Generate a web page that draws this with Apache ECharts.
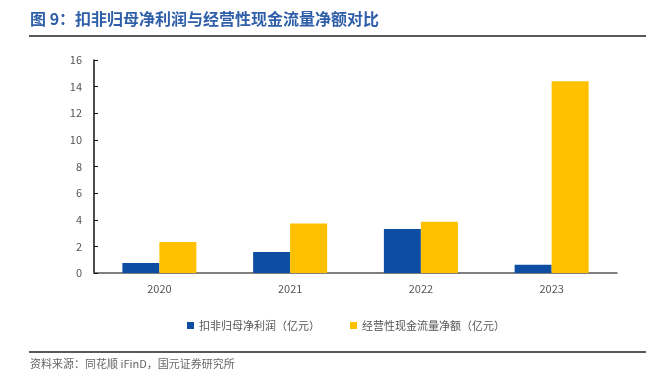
<!DOCTYPE html>
<html><head><meta charset="utf-8">
<script src="https://cdn.jsdelivr.net/npm/echarts@6/dist/echarts.min.js"></script>
<style>html,body{margin:0;padding:0;background:#fff}#c{width:664px;height:380px}</style>
</head><body><div id="c"></div>
<script>
const categories = ['2020', '2021', '2022', '2023'];
const netProfit = [0.75, 1.58, 3.3, 0.62];
const opCashFlow = [2.33, 3.72, 3.85, 14.4];
const seriesNames = ['扣非归母净利润（亿元）', '经营性现金流量净额（亿元）'];
const titleText = '图 9：扣非归母净利润与经营性现金流量净额对比';
const sourceText = '资料来源：同花顺 iFinD，国元证券研究所';

const chart = echarts.init(document.getElementById('c'));
const font = '"Noto Sans CJK SC", "Noto Sans", sans-serif';
chart.setOption({
  animation: false,
  textStyle: { fontFamily: font },
  graphic: [
    { type: 'text', left: 30, top: 11, style: { text: titleText, fill: '#2f5fa8', font: 'bold 16px ' + font } },
    { type: 'line', shape: { x1: 29, y1: 36, x2: 646, y2: 36 }, style: { stroke: '#222', lineWidth: 1.5 } },
    { type: 'line', shape: { x1: 29, y1: 352, x2: 646, y2: 352 }, style: { stroke: '#222', lineWidth: 1.5 } },
    { type: 'text', left: 30, top: 358, style: { text: sourceText, fill: '#666', font: '11px ' + font } }
  ],
  legend: {
    top: 315, left: 182,
    itemWidth: 7, itemHeight: 7, itemGap: 30,
    icon: 'rect',
    textStyle: { color: '#555', fontSize: 11, fontFamily: font },
    data: seriesNames
  },
  grid: { left: 94, right: 47, top: 60, bottom: 107, containLabel: false },
  xAxis: {
    type: 'category', data: categories,
    axisLine: { lineStyle: { color: '#555', width: 1.5 } },
    axisTick: { inside: true, length: 4, lineStyle: { color: '#333' } },
    axisLabel: { color: '#555', fontSize: 11, margin: 10 }
  },
  yAxis: {
    type: 'value', min: 0, max: 16, interval: 2,
    axisLine: { show: true, lineStyle: { color: '#111', width: 1.5 } },
    axisTick: { show: true, inside: true, length: 4, lineStyle: { color: '#111' } },
    axisLabel: { color: '#555', fontSize: 11, margin: 12 },
    splitLine: { show: false }
  },
  series: [
    { name: seriesNames[0], type: 'bar', data: netProfit, barWidth: 37, barGap: '0%', itemStyle: { color: '#0d4ea3' } },
    { name: seriesNames[1], type: 'bar', data: opCashFlow, barWidth: 37, barGap: '0%', itemStyle: { color: '#ffc000' } }
  ]
});
</script></body></html>
